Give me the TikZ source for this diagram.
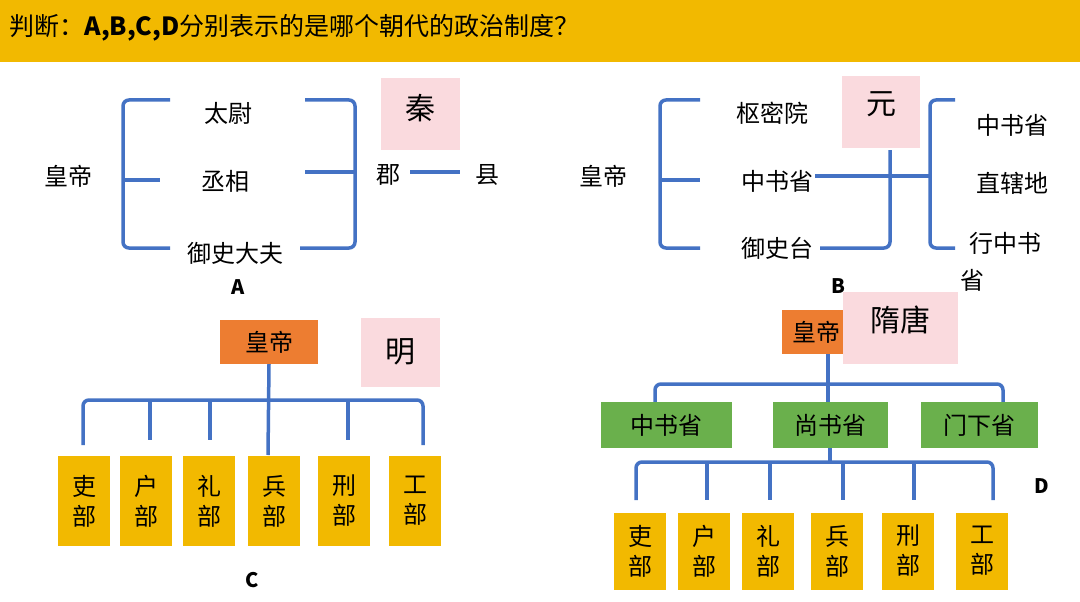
\documentclass[tikz,border=0pt]{standalone}
\usepackage{fontspec}
\setmainfont{Noto Sans CJK SC}
\definecolor{ybar}{RGB}{242,185,0}
\definecolor{lblue}{RGB}{68,114,196}
\definecolor{pinkb}{RGB}{250,218,222}
\definecolor{orng}{RGB}{237,125,49}
\definecolor{grn}{RGB}{106,176,76}
\tikzset{
 ln/.style={draw=lblue,line width=3.5pt,rounded corners=6pt},
 txt/.style={font=\fontsize{24}{26}\selectfont},
 lab/.style={font=\bfseries\fontsize{20}{22}\selectfont},
 pinkbox/.style={fill=pinkb,font=\fontsize{30}{32}\selectfont},
 ybox/.style={fill=ybar,font=\fontsize{24}{30}\selectfont,align=center},
}
\begin{document}
\begin{tikzpicture}[x=1pt,y=-1pt]
\node[fill=white,minimum width=1080pt,minimum height=602pt,inner sep=0pt,outer sep=0pt,anchor=north west] (bg) at (0,0) {};
\node[fill=ybar,minimum width=1080pt,minimum height=62pt,inner sep=0pt,outer sep=0pt,anchor=north west] (bar) at (0,0) {};
\node[anchor=west,font=\fontsize{25}{27}\selectfont,text=black] (title) at (6,28) {判断：\textbf{A,B,C,D}分别表示的是哪个朝代的政治制度？};
% A
\node[pinkbox,minimum width=79pt,minimum height=72pt] (qin) at (420,114) {};
\node[font=\fontsize{30}{32}\selectfont] at (420,108) {秦};
\draw[ln] (170,100)--(123,100)--(123,248)--(170,248);
\draw[ln] (123,180)--(160,180);
\draw[ln] (305,100)--(355,100)--(355,248)--(300,248);
\draw[ln,rounded corners=0pt] (305,172)--(355,172);
\draw[ln,rounded corners=0pt] (410,172)--(460,172);
\node[txt] (hdA) at (68,176) {皇帝};
\node[txt] (tw) at (228,113) {太尉};
\node[txt] (cx) at (225,181) {丞相};
\node[txt] (ys) at (235,253) {御史大夫};
\node[txt] (jun) at (388,175) {郡};
\node[txt] (xian) at (487,175) {县};
\node[lab] at (238,287) {A};
% B
\node[pinkbox,minimum width=78pt,minimum height=72pt] (yuan) at (881,112) {};
\node[font=\fontsize{30}{32}\selectfont] at (881,104) {元};
\draw[ln] (700,100)--(660,100)--(660,248)--(700,248);
\draw[ln,rounded corners=0pt] (660,180)--(700,180);
\draw[ln] (890,150)--(890,248)--(820,248);
\draw[ln,rounded corners=0pt] (815,176)--(930,176);
\draw[ln] (955,100)--(930,100)--(930,248)--(955,248);
\node[txt] (hdB) at (603,176) {皇帝};
\node[txt] (smy) at (772,113) {枢密院};
\node[txt] (zsB) at (777,181) {中书省};
\node[txt] (yst) at (777,248) {御史台};
\node[txt] (zs2) at (1012,125) {中书省};
\node[txt] (zxd) at (1012,183) {直辖地};
\node[txt] (xzs) at (1005,243) {行中书};
\node[txt] at (972,280) {省};
\node[lab] at (838,286) {B};
% C
\node[fill=orng,minimum width=98pt,minimum height=44pt,txt] (hdC) at (269,342) {皇帝};
\node[pinkbox,minimum width=79pt,minimum height=69pt] (ming) at (400,352) {明};
\draw[ln] (83,445)--(83,400)--(423,400)--(423,445);
\draw[ln,rounded corners=0pt] (hdC.south)--(268,455);
\foreach \x in {150,210,348} \draw[ln,rounded corners=0pt] (\x,400)--(\x,440);
\foreach \x/\t/\n in {84/吏/c1,146/户/c2,209/礼/c3,274/兵/c4,344/刑/c5,415/工/c6}
  \node[ybox,minimum width=52pt,minimum height=90pt] (\n) at (\x,501) {\t\\部};
\node[lab] at (252,580) {C};
% D
\node[fill=orng,minimum width=68pt,minimum height=44pt,txt,anchor=west,inner sep=8pt] (hdD) at (782,332) {皇帝};
\node[pinkbox,minimum width=115pt,minimum height=72pt] (st) at (900,328) {};
\node[font=\fontsize{30}{32}\selectfont] at (900,320) {隋唐};
\draw[ln] (655,402)--(655,384)--(1003,384)--(1003,402);
\draw[ln,rounded corners=0pt] (828,354)--(828,402);
\node[fill=grn,minimum width=131pt,minimum height=46pt,txt] (zsD) at (666,425) {中书省};
\node[fill=grn,minimum width=115pt,minimum height=46pt,txt] (ss) at (830,425) {尚书省};
\node[fill=grn,minimum width=117pt,minimum height=46pt,txt] (mx) at (979,425) {门下省};
\draw[ln,rounded corners=0pt] (ss.south)--(830,462);
\draw[ln] (636,500)--(636,462)--(993,462)--(993,500);
\foreach \x in {707,770,843,914} \draw[ln,rounded corners=0pt] (\x,462)--(\x,500);
\foreach \x/\t/\n in {640/吏/d1,704/户/d2,768/礼/d3,837/兵/d4,908/刑/d5,982/工/d6}
  \node[ybox,minimum width=52pt,minimum height=77pt] (\n) at (\x,551) {\t\\部};
\node[lab] at (1042,486) {D};
\end{tikzpicture}
\end{document}
